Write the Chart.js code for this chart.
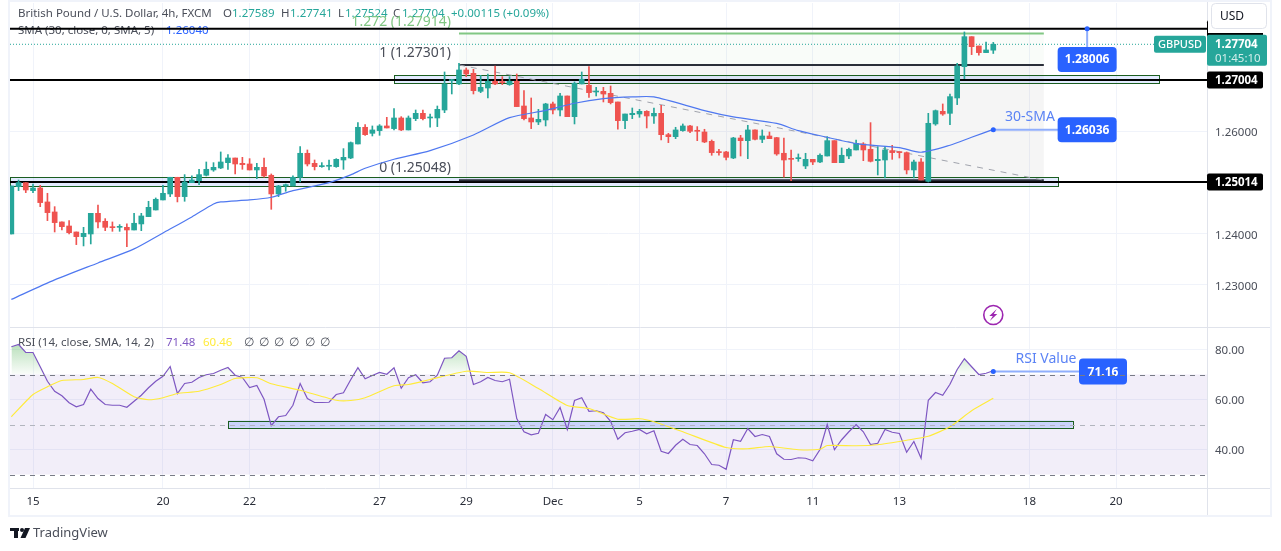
<!DOCTYPE html>
<html>
<head>
<meta charset="utf-8">
<title>GBPUSD 4h</title>
<script src="https://cdn.jsdelivr.net/npm/chart.js@4/dist/chart.umd.min.js"></script>
<style>
  html, body { margin: 0; padding: 0; background: #fff; overflow: hidden; }
  canvas { display: block; }
</style>
</head>
<body>
<canvas id="gbpusd" width="1281" height="551"></canvas>
<script>
// candles, oldest first. index 0 is the candle that sits on the "15" tick
const firstCandle = -3;
const opens = [
  1.23997,1.24922,1.25000,1.24844,1.24896,1.24623,1.24427,1.24232,1.24153,1.24036,
  1.23945,1.23997,1.24401,1.24245,1.24127,1.24127,1.24127,1.24075,1.24193,1.24336,
  1.24466,1.24662,1.24779,1.25105,1.24727,1.25000,1.25039,1.25144,1.25248,1.25287,
  1.25391,1.25482,1.25378,1.25365,1.25248,1.25300,1.25144,1.24779,1.24935,1.24935,
  1.25105,1.25574,1.25378,1.25313,1.25320,1.25313,1.25443,1.25482,1.25756,1.26082,
  1.25964,1.26017,1.26108,1.26056,1.26264,1.26030,1.26251,1.26355,1.26264,1.26264,
  1.26420,1.26994,1.26929,1.27202,1.27137,1.26785,1.26850,1.26981,1.26968,1.26916,
  1.26981,1.26498,1.26264,1.26186,1.26225,1.26538,1.26420,1.26694,1.26290,1.26929,
  1.26903,1.26772,1.26785,1.26746,1.26577,1.26212,1.26329,1.26342,1.26394,1.26303,
  1.26355,1.25938,1.25899,1.26017,1.26108,1.26010,1.25990,1.25808,1.25600,1.25600,
  1.25482,1.25873,1.25821,1.26030,1.25847,1.25912,1.25880,1.25574,1.25463,1.25469,
  1.25326,1.25456,1.25404,1.25521,1.25821,1.25391,1.25521,1.25639,1.25756,1.25652,
  1.25430,1.25443,1.25626,1.25600,1.25587,1.25248,1.25404,1.25026,1.26147,1.26394,
  1.26355,1.26655,1.27267,1.27853,1.27671,1.27541,1.27589
];
const highs = [
  1.24935,1.25052,1.25000,1.24974,1.24948,1.24792,1.24531,1.24232,1.24258,1.24036,
  1.24127,1.24401,1.24564,1.24297,1.24232,1.24180,1.24193,1.24401,1.24401,1.24636,
  1.24701,1.24948,1.25105,1.25105,1.25157,1.25131,1.25261,1.25404,1.25391,1.25600,
  1.25548,1.25482,1.25495,1.25469,1.25378,1.25482,1.25170,1.24948,1.24974,1.25131,
  1.25704,1.25639,1.25443,1.25391,1.25443,1.25469,1.25665,1.25795,1.26173,1.26134,
  1.26108,1.26134,1.26277,1.26446,1.26290,1.26303,1.26420,1.26420,1.26342,1.26498,
  1.27163,1.27020,1.27332,1.27241,1.27215,1.27098,1.27124,1.27280,1.27072,1.27072,
  1.27124,1.26798,1.26655,1.26433,1.26551,1.26577,1.26746,1.26694,1.26968,1.27163,
  1.27267,1.26863,1.26863,1.26889,1.26577,1.26342,1.26459,1.26433,1.26407,1.26459,
  1.26511,1.25964,1.26082,1.26147,1.26121,1.26095,1.26043,1.25834,1.25652,1.25613,
  1.25886,1.25925,1.26121,1.26030,1.26030,1.25990,1.25886,1.25873,1.25639,1.25561,
  1.25574,1.25456,1.25561,1.25899,1.25821,1.25678,1.25678,1.25834,1.25782,1.26173,
  1.25704,1.25704,1.25730,1.25600,1.25600,1.25443,1.25469,1.26355,1.26420,1.26538,
  1.26733,1.27332,1.27945,1.27853,1.27671,1.27749,1.27741
];
const lows = [
  1.23997,1.24844,1.24805,1.24805,1.24531,1.24258,1.24036,1.24075,1.23997,1.23789,
  1.23763,1.23802,1.24114,1.24062,1.24049,1.24049,1.23750,1.24075,1.24062,1.24336,
  1.24466,1.24662,1.24727,1.24623,1.24636,1.25000,1.24961,1.25131,1.25222,1.25274,
  1.25261,1.25170,1.25261,1.25248,1.25078,1.25105,1.24479,1.24727,1.24831,1.24935,
  1.25013,1.25326,1.25248,1.25300,1.25248,1.25300,1.25261,1.25469,1.25756,1.25925,
  1.25912,1.25925,1.26069,1.26030,1.26017,1.26030,1.26212,1.26225,1.26082,1.26095,
  1.26368,1.26733,1.26916,1.27072,1.26733,1.26759,1.26655,1.26916,1.26916,1.26903,
  1.26486,1.26225,1.26056,1.26134,1.26108,1.26342,1.26303,1.26290,1.26147,1.26929,
  1.26668,1.26694,1.26577,1.26538,1.26043,1.26056,1.26251,1.26277,1.26069,1.26160,
  1.25834,1.25782,1.25860,1.26004,1.25978,1.25821,1.25782,1.25535,1.25535,1.25443,
  1.25469,1.25521,1.25469,1.25834,1.25782,1.25860,1.25535,1.25105,1.25039,1.25417,
  1.25274,1.25352,1.25391,1.25521,1.25391,1.25391,1.25469,1.25639,1.25430,1.25404,
  1.25150,1.25092,1.25456,1.25482,1.25170,1.25092,1.25052,1.25013,1.26121,1.26316,
  1.26134,1.26525,1.27033,1.27502,1.27489,1.27541,1.27524
];
const closes = [
  1.24935,1.25000,1.24857,1.24896,1.24610,1.24414,1.24219,1.24140,1.24023,1.23945,
  1.24010,1.24401,1.24232,1.24127,1.24120,1.24134,1.24075,1.24206,1.24349,1.24518,
  1.24675,1.24792,1.25105,1.24727,1.25013,1.25052,1.25157,1.25261,1.25300,1.25404,
  1.25482,1.25365,1.25352,1.25248,1.25300,1.25131,1.24779,1.24935,1.24961,1.25105,
  1.25574,1.25365,1.25313,1.25326,1.25326,1.25456,1.25495,1.25782,1.26082,1.25938,
  1.26030,1.26108,1.26069,1.26264,1.26030,1.26264,1.26355,1.26251,1.26277,1.26433,
  1.26929,1.27007,1.27202,1.27124,1.26798,1.26863,1.26981,1.26929,1.26955,1.26981,
  1.26486,1.26251,1.26186,1.26238,1.26538,1.26420,1.26694,1.26290,1.26942,1.27020,
  1.26759,1.26785,1.26733,1.26564,1.26212,1.26342,1.26355,1.26394,1.26303,1.26355,
  1.25938,1.25899,1.26030,1.26108,1.26004,1.26004,1.25795,1.25587,1.25587,1.25495,
  1.25873,1.25821,1.26030,1.25847,1.25912,1.25860,1.25561,1.25443,1.25456,1.25482,
  1.25456,1.25404,1.25535,1.25821,1.25391,1.25535,1.25652,1.25769,1.25639,1.25417,
  1.25456,1.25639,1.25587,1.25587,1.25248,1.25404,1.25052,1.26160,1.26407,1.26342,
  1.26681,1.27280,1.27853,1.27658,1.27541,1.27593,1.27704
];

// 30-SMA read at some candles only
const smaCandles = [-3,3,9,14,18,22,25,26,30,33,36,41,44,46,50,55,61,66,71,75,79,83,86,93,97,103,106,110,114,120,123,127,130,133];
const smaValues = [1.22718,1.23099,1.23431,1.23705,1.24017,1.24330,1.24584,1.24623,1.24662,1.24715,1.24844,1.25000,1.25151,1.25281,1.25457,1.25625,1.25932,1.26270,1.26411,1.26552,1.26641,1.26675,1.26675,1.26407,1.26284,1.26157,1.26016,1.25887,1.25762,1.25684,1.25594,1.25731,1.25887,1.26040];

const rsiValues = [
  81.1,82.0,78.8,78.8,73.1,67.3,63.3,61.5,58.7,57.1,
  58.0,64.1,60.4,58.0,57.7,57.7,56.9,59.3,61.7,64.7,
  67.3,69.3,73.2,62.4,66.4,66.9,68.8,69.9,70.4,71.7,
  72.8,69.7,68.8,64.8,65.6,60.1,49.5,53.1,53.6,57.7,
  66.4,60.4,58.8,58.8,58.9,62.0,62.7,67.9,72.7,68.3,
  69.6,70.8,70.1,72.7,64.5,68.7,69.9,66.7,67.1,69.7,
  76.5,76.7,79.5,77.3,66.0,67.1,68.8,67.6,67.1,68.1,
  52.4,47.1,45.9,46.5,54.0,51.9,56.8,48.0,59.6,60.7,
  55.3,55.5,54.7,51.3,44.1,46.7,47.3,48.0,46.3,47.5,
  39.3,38.4,41.7,44.1,42.0,41.6,38.3,34.0,33.7,32.1,
  43.9,43.3,48.4,45.2,46.0,45.2,38.3,36.1,36.0,36.7,
  36.5,35.5,40.0,50.0,39.9,43.9,47.1,50.0,47.1,42.0,
  42.5,48.0,46.9,46.4,38.9,43.2,36.5,59.7,62.8,61.7,
  66.1,72.0,76.3,73.1,70.0,70.5,71.48
];
const rsiMaCandles = [-3,0,2,4,7,9,11,14,16,18,20,23,26,28,31,33,37,42,44,46,50,52,55,60,63,66,70,74,77,81,84,86,90,96,99,102,106,109,110,114,117,121,124,127,130,133];
const rsiMaValues = [53.1,62.0,65.1,67.6,68.0,68.8,66.4,61.1,59.9,60.7,62.4,63.3,66.0,68.4,68.7,66.3,63.7,59.7,59.6,60.7,65.5,66.0,68.0,71.3,70.8,70.7,64.4,57.6,56.4,52.1,52.3,51.1,47.1,40.8,40.3,41.2,39.9,40.1,41.6,41.5,41.9,43.7,45.3,49.1,55.5,60.46];

// axis ticks
const dayTicks = [0,18,30,48,60,72,84,96,108,120,138,150];
const dayLabels = ['15','20','22','27','29','Dec','5','7','11','13','18','20'];
const priceGrid = [1.23,1.24,1.25,1.26,1.27,1.28];
const priceLabels = ['1.23000','1.24000','','1.26000','',''];
const rsiTicks = [40,60,80];

// drawn levels
const supportLevels = [1.28006,1.27004,1.25014];
const supportTags = ['','1.27004','1.25014']; // the top tag hides under the button and the last price
const lastPrice = 1.27704;
const fibStart = 59, fibEnd = 140;
const fibPrices = [1.27914,1.27301,1.25048];
const fibNames = ['1.272 (1.27914)','1 (1.27301)','0 (1.25048)'];

const up = '#26a69a', down = '#ef5350';
const blue = '#2962ff';
const xMin = -3.186, xMax = 162.6;

const canvas = document.getElementById('gbpusd');
const ctx = canvas.getContext('2d');

const rsiGlow = ctx.createLinearGradient(0, 345, 0, 375);
rsiGlow.addColorStop(0, 'rgba(76,175,80,.38)');
rsiGlow.addColorStop(1, 'rgba(76,175,80,.02)');

const candleX = i => i + firstCandle;
const upOrDown = opens.map((o, i) => closes[i] >= o ? up : down);
const flatLine = (y, from = xMin, to = xMax) => [{x: from, y}, {x: to, y}];

const FONT = '"Noto Sans", sans-serif';

let label = (c, text, x, y, color, font = '11.5px ' + FONT, align = 'left') => {
    c.fillStyle = color;
    c.font = font;
    c.textAlign = align;
    c.textBaseline = 'middle';
    c.fillText(text, x, y);
};

// runs of text, each starting where the picture has it
let labelRuns = (c, runs, y) => {
    runs.forEach(r => label(c, r[0], r[1], y, r[2]));
};

let roundBox = (c, x, y, w, h, r, fill) => {
    c.beginPath();
    c.roundRect(x, y, w, h, r);
    c.fillStyle = fill;
    c.fill();
};

let callout = (c, dotX, dotY, boxCx, boxCy, w, h, text) => {
    c.strokeStyle = '#90aefc';
    c.lineWidth = 2;
    c.beginPath();
    c.moveTo(dotX, dotY);
    c.lineTo(boxCx, dotY);
    c.lineTo(boxCx, boxCy);
    c.stroke();
    roundBox(c, boxCx - w / 2, boxCy - h / 2, w, h, 4, blue);
    label(c, text, boxCx, boxCy + 0.5, '#fff', 'bold 12px ' + FONT, 'center');
    c.beginPath();
    c.arc(dotX, dotY, 2.5, 0, Math.PI * 2);
    c.fillStyle = blue;
    c.fill();
};

let boxBetween = (c, x0, x1, y0, y1, fill, stroke) => {
    c.fillStyle = fill;
    c.fillRect(x0, y0, x1 - x0, y1 - y0);
    if (stroke) {
        c.strokeStyle = stroke;
        c.lineWidth = 1;
        c.strokeRect(Math.round(x0) + .5, Math.round(y0) + .5, Math.round(x1 - x0), Math.round(y1 - y0));
    }
};

const overlay = {
    id: 'overlay',
    beforeDatasetsDraw(chart) {
        const c = chart.ctx, {x, y, rsi} = chart.scales, area = chart.chartArea;
        c.save();

        // rsi band
        c.fillStyle = 'rgba(126,87,194,.10)';
        c.fillRect(area.left, rsi.getPixelForValue(70), area.width, rsi.getPixelForValue(30) - rsi.getPixelForValue(70));

        // fib shading
        c.fillStyle = 'rgba(76,175,80,.035)';
        c.fillRect(x.getPixelForValue(fibStart), y.getPixelForValue(fibPrices[0]), x.getPixelForValue(fibEnd) - x.getPixelForValue(fibStart), y.getPixelForValue(fibPrices[1]) - y.getPixelForValue(fibPrices[0]));
        c.fillStyle = 'rgba(120,120,120,.07)';
        c.fillRect(x.getPixelForValue(fibStart), y.getPixelForValue(fibPrices[1]), x.getPixelForValue(fibEnd) - x.getPixelForValue(fibStart), y.getPixelForValue(fibPrices[2]) - y.getPixelForValue(fibPrices[1]));

        // support / resistance boxes
        boxBetween(c, x.getPixelForValue(50), x.getPixelForValue(156), y.getPixelForValue(1.27098), y.getPixelForValue(1.26942), 'rgba(41,98,255,.13)', '#1b5e20');
        boxBetween(c, area.left, x.getPixelForValue(142), y.getPixelForValue(1.25105), y.getPixelForValue(1.24929), 'rgba(41,98,255,.13)', '#1b5e20');
        boxBetween(c, x.getPixelForValue(27), x.getPixelForValue(144), rsi.getPixelForValue(51.6), rsi.getPixelForValue(48.67), 'rgba(41,98,255,.2)', '#1b5e20');

        // header text, the level lines go over it
        const gray = '#4a4e59';
        labelRuns(c, [['British Pound / U.S. Dollar, 4h, FXCM', 18, gray], ['O', 223, gray], ['1.27589', 232, up], ['H', 281, gray], ['1.27741', 290, up], ['L', 338, gray], ['1.27524', 345, up], ['C', 393, gray], ['1.27704', 402, up], ['+0.00115 (+0.09%)', 451, up]], 14);
        labelRuns(c, [['SMA (30, close, 0, SMA, 5)', 18, gray], ['1.26040', 166, blue]], 31);
        labelRuns(c, [['RSI (14, close, SMA, 14, 2)', 18, gray], ['71.48', 166, '#7e57c2'], ['60.46', 203, '#ffeb3b']], 343);
        [244, 259, 274, 289, 305, 320].forEach(px => label(c, '∅', px, 343, gray));

        // fib labels
        const fibColors = ['#81c784', '#4a4e59', '#4a4e59'];
        fibNames.forEach((n, i) => label(c, n, x.getPixelForValue(fibStart) - 8, y.getPixelForValue(fibPrices[i]) - 12, fibColors[i], '14px ' + FONT, 'right'));

        c.restore();
    },
    afterDatasetsDraw(chart) {
        const c = chart.ctx, {x, y, rsi} = chart.scales, area = chart.chartArea;
        c.save();

        const dotX = x.getPixelForValue(133), noteX = x.getPixelForValue(146);

        // blue callouts
        callout(c, noteX, y.getPixelForValue(1.28006), noteX, 59.5, 59, 25, '1.28006');
        callout(c, dotX, y.getPixelForValue(1.26036), noteX, y.getPixelForValue(1.26036), 59, 25, '1.26036');
        callout(c, dotX, rsi.getPixelForValue(71.16), 1103, rsi.getPixelForValue(71.16), 48, 26, '71.16');
        label(c, '30-SMA', 1030, 117, '#5b83f5', '14px ' + FONT, 'center');
        label(c, 'RSI Value', 1046, 359, '#5b83f5', '14px ' + FONT, 'center');

        // rsi levels
        [[70, '#787b86'], [50, '#b2b5be'], [30, '#787b86']].forEach(([v, col]) => {
            const py = Math.round(rsi.getPixelForValue(v)) + .5;
            c.strokeStyle = col;
            c.lineWidth = 1;
            c.setLineDash([5, 5]);
            c.beginPath();
            c.moveTo(area.left, py);
            c.lineTo(area.right, py);
            c.stroke();
        });
        c.setLineDash([]);

        // lightning mark
        c.strokeStyle = '#9c27b0';
        c.lineWidth = 1.6;
        c.beginPath();
        c.arc(dotX, 315, 9.5, 0, Math.PI * 2);
        c.stroke();
        c.fillStyle = '#9c27b0';
        c.beginPath();
        c.moveTo(dotX + 3.5, 309); c.lineTo(dotX - 4, 316); c.lineTo(dotX - .5, 316);
        c.lineTo(dotX - 3.5, 321); c.lineTo(dotX + 4, 314); c.lineTo(dotX + .5, 314);
        c.closePath();
        c.fill();

        // frame
        c.strokeStyle = '#e0e3eb';
        c.lineWidth = 1;
        c.beginPath();
        c.moveTo(area.left, 327.5); c.lineTo(1271, 327.5);
        c.moveTo(area.left, 488.5); c.lineTo(1271, 488.5);
        c.moveTo(1207.5, 2); c.lineTo(1207.5, 516);
        c.stroke();
        c.strokeStyle = '#f0f3fa';
        c.lineWidth = 2;
        c.strokeRect(area.left - 1, 1, 1271 - area.left + 1, 515);

        // price tags
        const tagFont = 'bold 11.5px ' + FONT;
        supportLevels.forEach((p, i) => {
            const py = y.getPixelForValue(p);
            roundBox(c, 1207, py - 8.5, 56, 17, 2, '#000');
            label(c, supportTags[i], 1215, py + .5, '#fff', tagFont);
        });
        // currency button, it hides the top of the 1.28006 tag
        c.fillStyle = '#fff';
        c.fillRect(1208, 2, 62, 31);
        c.beginPath();
        c.roundRect(1211.5, 3.5, 55, 25, 4);
        c.strokeStyle = '#e0e3eb';
        c.lineWidth = 1;
        c.stroke();
        label(c, 'USD', 1220, 16.5, '#131722', '12px ' + FONT);

        const lastY = y.getPixelForValue(lastPrice);
        roundBox(c, 1154, lastY - 8.5, 52, 17, 2, up);
        label(c, 'GBPUSD', 1180, lastY + .5, '#fff', '500 11px ' + FONT, 'center');
        roundBox(c, 1207, lastY - 9.5, 60, 31, 2, up);
        label(c, lastPrice.toFixed(5), 1215, lastY + .5, '#fff', tagFont);
        label(c, '01:45:10', 1215, lastY + 14.5, 'rgba(255,255,255,.8)', '11.5px ' + FONT);

        // footer
        c.fillStyle = '#131722';
        c.fillRect(10, 528, 9, 3);
        c.fillRect(14, 528, 4, 10);
        c.beginPath();
        c.arc(22, 530, 2, 0, Math.PI * 2);
        c.fill();
        c.beginPath();
        c.moveTo(25, 528); c.lineTo(30, 528); c.lineTo(25.5, 538); c.lineTo(20.5, 538);
        c.closePath();
        c.fill();
        label(c, 'TradingView', 33, 533.5, '#4a4e59', '13px ' + FONT);

        c.restore();
    }
};

const levelLine = (y, width, color) => ({
    type: 'line', data: flatLine(y), borderColor: color, borderWidth: width, pointRadius: 0, order: 9
});
const fibLine = (y, color) => ({
    type: 'line', data: flatLine(y, fibStart, fibEnd), borderColor: color, borderWidth: 2, pointRadius: 0, order: 8
});

// axis boxes keep a fixed size, and no room for half a label at the ends
const fixWidth = s => { s.width = 74; s.paddingTop = 0; s.paddingBottom = 0; };

new Chart(ctx, {
    type: 'bar',
    data: {
        datasets: [
            ...supportLevels.map(v => levelLine(v, 2, '#000')),
            {type: 'line', data: flatLine(lastPrice), borderColor: up, borderWidth: 1, borderDash: [1, 2], pointRadius: 0, order: 9},
            fibLine(fibPrices[0], '#81c784'),
            fibLine(fibPrices[1], '#2a2e39'),
            fibLine(fibPrices[2], '#2a2e39'),
            {
                type: 'line',
                data: [{x: fibStart, y: fibPrices[1]}, {x: fibEnd, y: fibPrices[2]}],
                borderColor: '#a0a3ac', borderWidth: 1, borderDash: [6, 6], pointRadius: 0, order: 7
            },
            {
                label: 'wicks',
                data: opens.map((_, i) => ({x: candleX(i), y: [lows[i], highs[i]]})),
                backgroundColor: upOrDown, barThickness: 1, grouped: false, order: 4
            },
            {
                label: 'bodies',
                data: opens.map((o, i) => ({x: candleX(i), y: [o, closes[i]]})),
                backgroundColor: upOrDown, barThickness: 5, minBarLength: 1, grouped: false, order: 3
            },
            {
                type: 'line', label: '30-SMA',
                data: smaCandles.map((c, i) => ({x: c, y: smaValues[i]})),
                borderColor: '#4f78f0', borderWidth: 1.2, pointRadius: 0, tension: .25, order: 2
            },
            {
                type: 'line', label: 'RSI', yAxisID: 'rsi',
                data: rsiValues.map((v, i) => ({x: candleX(i), y: v})),
                borderColor: '#7e57c2', borderWidth: 1.2, pointRadius: 0, order: 2,
                fill: {target: {value: 70}, above: rsiGlow, below: 'rgba(0,0,0,0)'}
            },
            {
                type: 'line', label: 'RSI MA', yAxisID: 'rsi',
                data: rsiMaCandles.map((c, i) => ({x: c, y: rsiMaValues[i]})),
                borderColor: '#ffeb3b', borderWidth: 1.2, pointRadius: 0, tension: .2, order: 1
            }
        ]
    },
    options: {
        responsive: false,
        animation: false,
        devicePixelRatio: 1,
        layout: {padding: {left: 10, top: 3, right: 0, bottom: 36}},
        plugins: {legend: {display: false}, tooltip: {enabled: false}},
        scales: {
            x: {
                type: 'linear', min: xMin, max: xMax, offset: false,
                grid: {color: '#f0f3fa', offset: false, drawTicks: false},
                border: {display: false},
                afterBuildTicks: s => { s.ticks = dayTicks.map(value => ({value})); },
                afterFit: s => { s.height = 27; s.paddingLeft = 0; s.paddingRight = 0; },
                ticks: {
                    autoSkip: false, maxRotation: 0, padding: 7, color: '#2a2e39',
                    font: {family: FONT, size: 11.5},
                    callback: v => dayLabels[dayTicks.indexOf(v)]
                }
            },
            y: {
                type: 'linear', position: 'right', stack: 'panes', stackWeight: 324,
                min: 1.22179, max: 1.28511,
                grid: {color: '#f0f3fa', drawTicks: false},
                border: {display: false},
                afterBuildTicks: s => { s.ticks = priceGrid.map(value => ({value})); },
                afterFit: fixWidth,
                ticks: {
                    padding: 8, labelOffset: 1.5, color: '#4a4e59', font: {family: FONT, size: 11.5},
                    callback: v => priceLabels[priceGrid.indexOf(v)]
                }
            },
            rsi: {
                type: 'linear', position: 'right', stack: 'panes', stackWeight: 161,
                min: 24.6, max: 89,
                grid: {color: '#f0f3fa', drawTicks: false},
                border: {display: false},
                afterBuildTicks: s => { s.ticks = rsiTicks.map(value => ({value})); },
                afterFit: fixWidth,
                ticks: {
                    padding: 8, labelOffset: 1.5, color: '#4a4e59', font: {family: FONT, size: 11.5},
                    callback: v => v.toFixed(2)
                }
            }
        }
    },
    plugins: [overlay]
});
</script>
</body>
</html>
